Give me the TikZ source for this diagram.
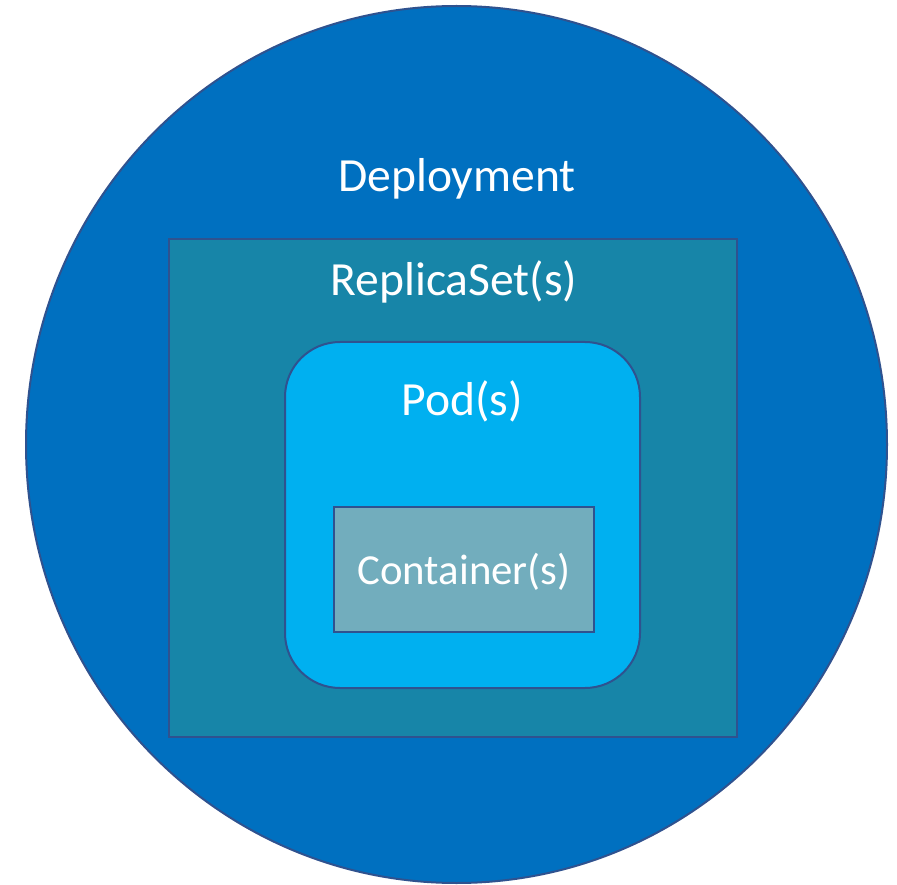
\documentclass[tikz,border=0pt]{standalone}
\usepackage{fontspec}
\setmainfont{Carlito}
\definecolor{depfill}{HTML}{0070C0}
\definecolor{rsfill}{HTML}{1785A8}
\definecolor{podfill}{HTML}{00B0F0}
\definecolor{ctfill}{HTML}{72ADBD}
\definecolor{edge}{HTML}{2F528F}
\begin{document}
\begin{tikzpicture}[x=1pt,y=-1pt,
  shapebox/.style={draw=edge,line width=2pt},
  lbl/.style={text=white,font=\fontsize{47.6}{56}\selectfont,inner sep=0pt,anchor=center}]
\useasboundingbox (0,0) rectangle (897,885);
\fill[white] (0,0) rectangle (897,885);
\path[shapebox,fill=depfill] (456.5,444.5) ellipse [x radius=430.5, y radius=438.5];
\node[coordinate] (dep) at (456.5,444.5) {};
\path[shapebox,fill=rsfill] (169,239) rectangle (737,737);
\path[shapebox,fill=podfill,rounded corners=55pt] (285,342) rectangle (640,688);
\path[shapebox,fill=ctfill] (334,507) rectangle (594,632);
\node[lbl] (tdep) at (457,179) {Deployment};
\node[lbl] (trs) at (454,282) {ReplicaSet(s)};
\node[lbl] (tpod) at (462,401) {Pod(s)};
\node[lbl,font=\fontsize{42.8}{50}\selectfont] (tct) at (464,572) {Container(s)};
\end{tikzpicture}
\end{document}
